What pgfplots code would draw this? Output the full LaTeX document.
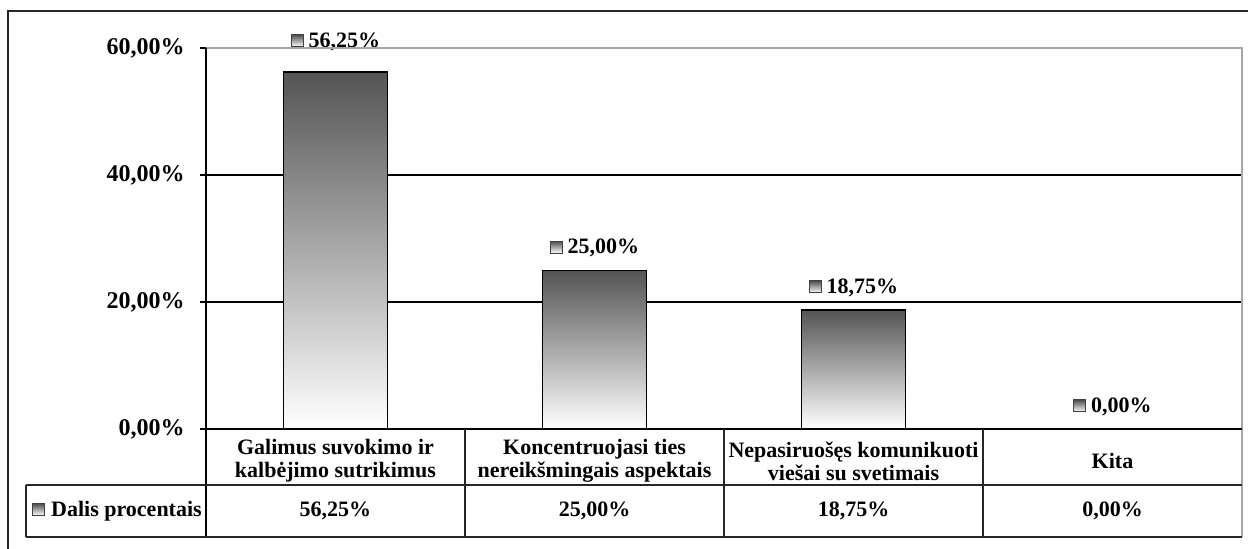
\documentclass[border=0pt]{standalone}
\usepackage{fontspec}
\setmainfont{Liberation Serif}
\usepackage{pgfplots}
\pgfplotsset{compat=1.18}

% small shaded legend key used in the labels
\newcommand\keysq{\tikz[baseline=-0.4pt,reset cm]\draw[black!75,line width=0.4pt,top color=black!70,bottom color=white] (0pt,0pt) rectangle (6pt,6pt);}

\pgfplotsset{
  bar/.style={ybar, bar width=51.8pt, bar shift=0pt, draw=black, line width=0.7pt,
    top color=black!67, bottom color=white, point meta=y,
    nodes near coords={\keysq\hspace{2.5pt}\pgfmathprintnumber[fixed,fixed zerofill,precision=2,use comma]{\pgfplotspointmeta}\%},
    every node near coord/.append style={anchor=center, yshift=11pt, black, inner sep=0pt}},
}

\begin{document}
\begin{tikzpicture}[font=\fontsize{11}{11}\selectfont\bfseries]
% 1 px of the reference = 0.5pt, axis origin at px (206,429)
\useasboundingbox (-103pt,-60pt) rectangle (521pt,214.5pt);
\begin{axis}[
  at={(0pt,0pt)}, anchor=south west,
  scale only axis, width=518pt, height=190.5pt,
  xmin=-0.5, xmax=3.5, ymin=0, ymax=60,
  enlargelimits=false, clip=false,
  axis line style={draw=none},
  ytick={0,20,40,60}, ymajorgrids,
  grid style={black, line width=0.7pt},
  tick align=outside, major tick length=3pt, ytick pos=left,
  y tick style={black, line width=0.7pt},
  /pgf/number format/assume math mode=true,
  yticklabel={\pgfmathprintnumber[fixed,fixed zerofill,precision=2,use comma]{\tick}\%},
  yticklabel style={inner sep=0pt, xshift=-7.5pt, font=\fontsize{12}{12}\selectfont\bfseries},
  xtick={0,1,2,3}, x tick style={draw=none},
  xticklabels={{Galimus suvokimo ir\\kalbėjimo sutrikimus},
               {Koncentruojasi ties\\nereikšmingais aspektais},
               {Nepasiruošęs komunikuoti\\viešai su svetimais},
               Kita},
  xticklabel style={align=center, anchor=center, inner sep=0pt, yshift=-13pt,
    font=\fontsize{11}{11.5}\selectfont\bfseries},
]
% one plot per bar so that each bar gets its own gradient
\addplot[bar, every node near coord/.append style={yshift=4pt}] coordinates {(0,56.25)};
\addplot[bar] coordinates {(1,25)};
\addplot[bar] coordinates {(2,18.75)};
\addplot[bar, top color=white, draw=none] coordinates {(3,0)};
\coordinate (O) at (rel axis cs:0,0);
\end{axis}

\begin{scope}[shift={(O)}, x=1pt, y=1pt]
  % outer chart frame
  \draw[black!85, line width=0.9pt] (-99,-80) -- (-99,209) -- (540,209);
  % plot area border (grey) and table right edge
  \draw[black!35, line width=0.8pt] (0,190.5) -- (518,190.5) -- (518,-54);
  % axes
  \draw[black, line width=0.7pt] (0,190.5) -- (0,-54);
  \draw[black, line width=0.7pt] (0,0) -- (518,0);
  % data table
  \draw[black!85, line width=0.6pt] (-90,-28) -- (518,-28);
  \draw[black!85, line width=0.6pt] (-90,-54) -- (518,-54);
  \draw[black!85, line width=0.6pt] (-90,-28) -- (-90,-54);
  \foreach \xx in {129.5,259,388.5}
    \draw[black!85, line width=0.6pt] (\xx,0) -- (\xx,-54);
  \node[anchor=west, inner sep=0pt] at (-87,-41) {\keysq\hspace{3pt}Dalis procentais};
  \node at (64.75,-41) {56,25\%};
  \node at (194.25,-41) {25,00\%};
  \node at (323.75,-41) {18,75\%};
  \node at (453.25,-41) {0,00\%};
\end{scope}
\end{tikzpicture}
\end{document}
